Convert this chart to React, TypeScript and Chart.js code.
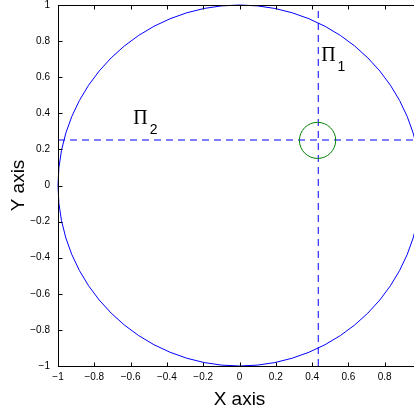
import React, { useEffect, useRef } from "react";
import { Chart, registerables } from "chart.js";

Chart.register(...registerables);

// ---- data ----
const xTickValues = [-1, -0.8, -0.6, -0.4, -0.2, 0, 0.2, 0.4, 0.6, 0.8, 1];
const yTickValues = [-1, -0.8, -0.6, -0.4, -0.2, 0, 0.2, 0.4, 0.6, 0.8, 1];
const circleCenterX = [0, 0.43];
const circleCenterY = [0, 0.25];
const circleRadius = [1, 0.1];
const circleColors = ["#0000ff", "#008000"];
const verticalLineX = 0.43;
const horizontalLineY = 0.25;
const piSubscripts = ["1", "2"];
const piLabelX = [0.45, -0.585];
const piLabelY = [0.69, 0.34];
const axisMin = -1;
const axisMax = 1;

const fmt = (v: number) => String(Math.round(v * 10) / 10).replace("-", "\u2212");

const snapPlugin = {
  id: "snap",
  beforeDatasetDraw(chart: any, args: any) {
    const { ctx } = chart;
    ctx.save();
    if (args.index === 0) {
      const px = chart.scales.x.getPixelForValue(verticalLineX);
      ctx.translate(Math.round(px) + 0.25 - px, 0);
    } else {
      const py = chart.scales.y.getPixelForValue(horizontalLineY);
      ctx.translate(0, Math.round(py) - py);
    }
  },
  afterDatasetDraw(chart: any) {
    chart.ctx.restore();
  },
};

const overlayPlugin = {
  id: "overlay",
  afterDatasetsDraw(chart: any) {
    const { ctx, chartArea } = chart;
    const xs = chart.scales.x;
    const ys = chart.scales.y;
    ctx.save();
    // circles
    for (let i = 0; i < circleCenterX.length; i++) {
      const cx = xs.getPixelForValue(circleCenterX[i]);
      const cy = ys.getPixelForValue(circleCenterY[i]);
      const rx = Math.abs(xs.getPixelForValue(circleCenterX[i] + circleRadius[i]) - cx);
      const ry = Math.abs(ys.getPixelForValue(circleCenterY[i] + circleRadius[i]) - cy);
      ctx.beginPath();
      ctx.ellipse(cx, cy, rx, ry, 0, 0, Math.PI * 2);
      ctx.strokeStyle = circleColors[i];
      ctx.lineWidth = 1;
      ctx.setLineDash([]);
      ctx.stroke();
    }
    // box
    ctx.strokeStyle = "#000";
    ctx.lineWidth = 1;
    const l = Math.round(chartArea.left) + 0.5;
    const t = Math.round(chartArea.top) + 0.5;
    const r = Math.round(chartArea.right) + 0.5;
    const b = Math.round(chartArea.bottom) + 0.5;
    ctx.strokeRect(l, t, r - l, b - t);
    const tl = 4;
    ctx.beginPath();
    for (const v of xTickValues) {
      const px = Math.round(xs.getPixelForValue(v)) + 0.5;
      ctx.moveTo(px, b);
      ctx.lineTo(px, b - tl);
      ctx.moveTo(px, t);
      ctx.lineTo(px, t + tl);
    }
    for (const v of yTickValues) {
      const py = Math.round(ys.getPixelForValue(v)) + 0.5;
      ctx.moveTo(l, py);
      ctx.lineTo(l + tl, py);
      ctx.moveTo(r, py);
      ctx.lineTo(r - tl, py);
    }
    ctx.stroke();
    // Pi labels
    ctx.fillStyle = "#000";
    ctx.textBaseline = "alphabetic";
    ctx.textAlign = "left";
    for (let i = 0; i < piSubscripts.length; i++) {
      const px = xs.getPixelForValue(piLabelX[i]);
      const py = ys.getPixelForValue(piLabelY[i]);
      ctx.font = '20px "Liberation Serif"';
      ctx.fillText("\u03A0", px, py);
      const w = ctx.measureText("\u03A0").width;
      ctx.font = '14px "Liberation Sans"';
      ctx.fillText(piSubscripts[i], px + w + 2, py + 10);
    }
    ctx.restore();
  },
};

export default function App() {
  const ref = useRef<HTMLCanvasElement | null>(null);
  useEffect(() => {
    if (!ref.current) return;
    const tickFont = { family: "Liberation Sans", size: 10 };
    const titleFont = { family: "Liberation Sans", size: 19 };
    const chart = new Chart(ref.current, {
      type: "scatter",
      data: {
        datasets: [
          {
            data: [
              { x: verticalLineX, y: axisMin },
              { x: verticalLineX, y: axisMax },
            ],
            showLine: true,
            borderColor: "#0000ff",
            borderWidth: 1,
            borderDash: [7, 5],
            pointRadius: 0,
          },
          {
            data: [
              { x: axisMin, y: horizontalLineY },
              { x: axisMax, y: horizontalLineY },
            ],
            showLine: true,
            borderColor: "#0000ff",
            borderWidth: 1,
            borderDash: [7, 5],
            pointRadius: 0,
          },
        ],
      },
      options: {
        animation: false,
        responsive: true,
        maintainAspectRatio: false,
        layout: { padding: { top: 5, right: 9, left: 0, bottom: 0 } },
        plugins: { legend: { display: false }, tooltip: { enabled: false } },
        scales: {
          x: {
            type: "linear",
            min: axisMin,
            max: axisMax,
            grid: { display: false, drawTicks: false },
            border: { display: false },
            afterBuildTicks: (s: any) => {
              s.ticks = xTickValues.map((v) => ({ value: v }));
            },
            afterFit: (s: any) => {
              s.height = 48;
              s.paddingLeft = 0;
              s.paddingRight = 0;
            },
            ticks: {
              color: "#000",
              font: tickFont,
              padding: 5,
              maxRotation: 0,
              autoSkip: false,
              callback: (v: any) => fmt(Number(v)),
            },
            title: {
              display: true,
              text: "X axis",
              color: "#000",
              font: titleFont,
              padding: { top: 0, bottom: 3 },
            },
          },
          y: {
            type: "linear",
            min: axisMin,
            max: axisMax,
            grid: { display: false, drawTicks: false },
            border: { display: false },
            afterBuildTicks: (s: any) => {
              s.ticks = yTickValues.map((v) => ({ value: v }));
            },
            afterFit: (s: any) => {
              s.width = 58;
              s.paddingTop = 0;
              s.paddingBottom = 0;
            },
            ticks: {
              color: "#000",
              font: tickFont,
              padding: 8,
              autoSkip: false,
              callback: (v: any) => fmt(Number(v)),
            },
            title: {
              display: true,
              text: "Y axis",
              color: "#000",
              font: titleFont,
              padding: { top: 7, bottom: 0 },
            },
          },
        },
      },
      plugins: [snapPlugin, overlayPlugin],
    });
    return () => chart.destroy();
  }, []);
  return (
    <div
      style={{
        position: "fixed",
        left: 0,
        top: 0,
        width: 414,
        height: 414,
        overflow: "hidden",
        background: "#fff",
      }}
    >
      <div style={{ position: "absolute", left: 0, top: 0, width: 430, height: 414 }}>
        <canvas ref={ref} />
      </div>
    </div>
  );
}
